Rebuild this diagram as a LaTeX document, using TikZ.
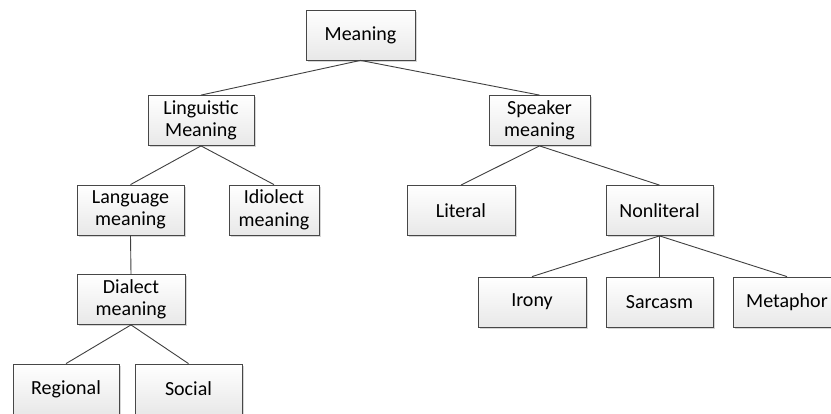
\documentclass[tikz,border=0pt]{standalone}
\usepackage{fontspec}
\setmainfont{Carlito}
\usetikzlibrary{shadows}

\tikzset{
  box/.style={
    draw=black!72, line width=0.8pt,
    top color=white, bottom color=black!9,
    drop shadow={shadow xshift=1.6pt, shadow yshift=-1.6pt, fill=black!35, opacity=0.45},
    minimum height=50pt, inner sep=2pt, align=center,
    font=\fontsize{20}{22.5}\selectfont, text=black
  },
  link/.style={draw=black!75, line width=0.9pt}
}

\begin{document}
\begin{tikzpicture}[x=1pt, y=-1pt]
  \clip (0,0) rectangle (831,414);
  \fill[white] (0,0) rectangle (831,414);

  % top level
  \node[box, minimum width=109pt] (meaning) at (360.5,35) {Meaning};

  % second level
  \node[box, minimum width=106pt] (ling) at (201,120.5) {Linguistic\\Meaning};
  \node[box, minimum width=101pt] (speaker) at (539.5,120.5) {Speaker\\meaning};

  % third level
  \node[box, minimum width=107pt] (lang) at (130.5,210) {Language\\meaning};
  \node[box, minimum width=90pt]  (idio) at (274,210) {Idiolect\\meaning};
  \node[box, minimum width=108pt] (literal) at (461,210.5) {Literal};
  \node[box, minimum width=107pt] (nonlit) at (659.5,210.5) {Nonliteral};

  % fourth level
  \node[box, minimum width=108pt] (dialect) at (131,299.5) {Dialect\\meaning};
  \node[box, minimum width=108pt] (irony) at (532,302) {Irony};
  \node[box, minimum width=107pt] (sarcasm) at (659.5,302) {Sarcasm};
  \node[box, minimum width=108pt] (metaphor) at (787,302) {Metaphor};

  % fifth level
  \node[box, minimum width=106pt] (regional) at (66,389) {Regional};
  \node[box, minimum width=107pt] (social) at (188.5,389) {Social};

  % connectors
  \draw[link] (meaning.south) -- (ling.north);
  \draw[link] (meaning.south) -- (speaker.north);
  \draw[link] (ling.south) -- (lang.north);
  \draw[link] (ling.south) -- (idio.north);
  \draw[link] (speaker.south) -- (literal.north);
  \draw[link] (speaker.south) -- (nonlit.north);
  \draw[link] (lang.south) -- (dialect.north);
  \draw[link] (nonlit.south) -- (irony.north);
  \draw[link] (nonlit.south) -- (sarcasm.north);
  \draw[link] (nonlit.south) -- (metaphor.north);
  \draw[link] (dialect.south) -- (regional.north);
  \draw[link] (dialect.south) -- (social.north);
\end{tikzpicture}
\end{document}
